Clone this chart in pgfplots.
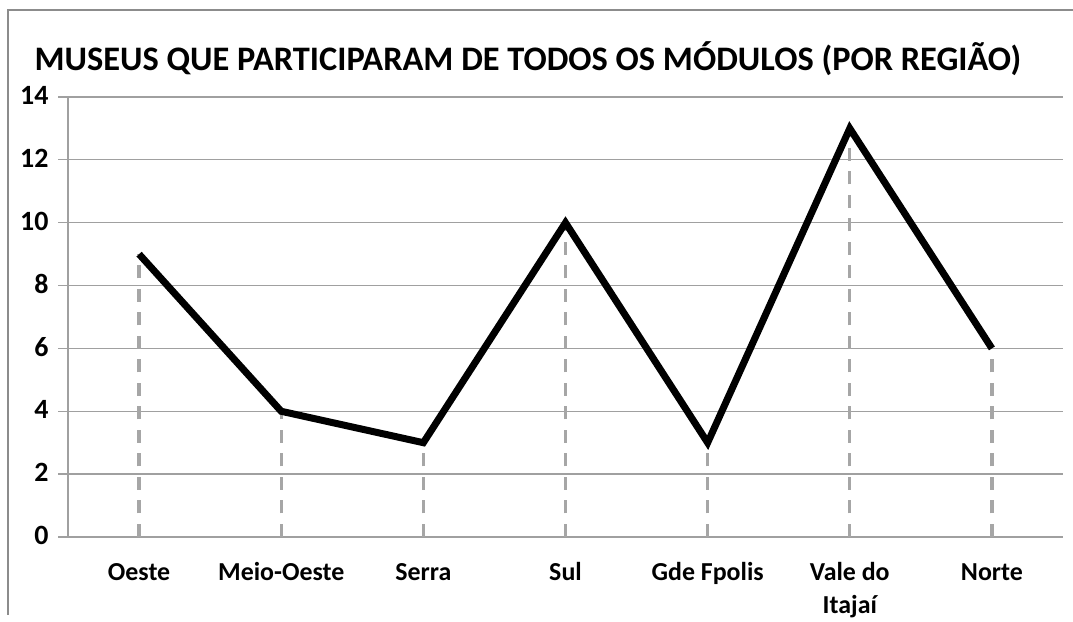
\documentclass[border=0pt]{standalone}
\usepackage{pgfplots}
\pgfplotsset{compat=1.18}
\usepackage{fontspec}
\setmainfont{Carlito}
\definecolor{gridc}{HTML}{A0A0A0}
\definecolor{dropc}{HTML}{A6A6A6}
\definecolor{framec}{HTML}{8C8C8C}
\newcommand{\yl}[1]{{\fontsize{28}{32}\selectfont\bfseries #1}}
\begin{document}
\begin{tikzpicture}
\begin{axis}[
  scale only axis,
  width=995bp, height=440bp,
  xmin=-0.5, xmax=6.5,
  ymin=0, ymax=14,
  ytick={0,2,4,6,8,10,12,14},
  yticklabels={\yl{0},\yl{2},\yl{4},\yl{6},\yl{8},\yl{10},\yl{12},\yl{14}},
  xtick=data,
  xticklabels={Oeste,Meio-Oeste,Serra,Sul,Gde Fpolis,{Vale do\\Itajaí},Norte},
  typeset ticklabels with strut,
  xticklabel style={align=center, font=\fontsize{26}{33}\selectfont\bfseries, yshift=-7bp, anchor=north},
  yticklabel style={xshift=-6bp, anchor=east},
  axis x line*=bottom, axis y line*=left,
  axis line style={draw=gridc, line width=1.3bp, -},
  xtick style={draw=none},
  ytick style={draw=gridc, line width=1.3bp},
  tick align=outside,
  major tick length=10bp,
  ymajorgrids,
  grid style={draw=gridc, line width=1.3bp},
  clip=false,
]
\path[use as bounding box] (rel axis cs:-0.06834,-0.17727) rectangle (rel axis cs:1.01005,1.22045);
\draw[framec, line width=2bp] (rel axis cs:-0.0603,-0.17727) -- (rel axis cs:-0.0603,1.1977) -- (rel axis cs:1.01005,1.1977);
\node[font=\fontsize{34.5}{40}\selectfont\bfseries, anchor=center] at (rel axis cs:0.4623,1.086) {MUSEUS QUE PARTICIPARAM DE TODOS OS MÓDULOS (POR REGIÃO)};
\addplot[ycomb, draw=dropc, line width=3.2bp, dash pattern=on 13bp off 10.5bp, mark=none] coordinates {(0,9) (1,4) (2,3) (3,10) (4,3) (5,13) (6,6)};
\addplot[black, line width=7bp, line join=miter, mark=none] coordinates {(0,9) (1,4) (2,3) (3,10) (4,3) (5,13) (6,6)};
\end{axis}
\end{tikzpicture}
\end{document}
